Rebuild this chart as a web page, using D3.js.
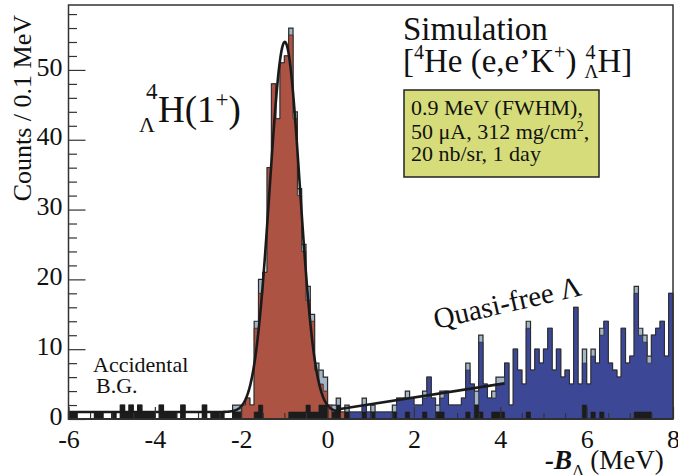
<!DOCTYPE html>
<html>
<head>
<meta charset="utf-8">
<script src="https://cdn.jsdelivr.net/npm/d3@7"></script>
<style>
  html, body { margin: 0; padding: 0; background: #fff; }
  svg { display: block; font-family: "Liberation Serif", "Times New Roman", serif; }
</style>
</head>
<body>
<svg id="chart" width="678" height="475"></svg>
<script>
// Simulated 4He(e,e'K+)4LH spectrum, 0.1 MeV bins from -6 to 8 MeV (140 bins)
const binLow = -6;
const binWidth = 0.1;

// accidental background (black)
const accCounts = [
  1, 1, 0, 0, 0, 0, 1, 1, 0, 0, 1, 0, 2, 1, 2, 1, 2, 1, 1, 1,
  0, 2, 1, 1, 1, 0, 2, 0, 0, 0, 0, 2, 0, 1, 1, 1, 0, 0, 1, 1,
  0, 0, 0, 1, 2, 0, 0, 0, 0, 0, 0, 1, 1, 1, 1, 2, 1, 1, 2, 2,
  0, 1, 2, 0, 1, 0, 0, 0, 1, 0, 1, 0, 0, 0, 0, 1, 0, 0, 1, 0,
  0, 0, 1, 0, 0, 1, 1, 0, 0, 0, 0, 0, 1, 0, 2, 1, 0, 0, 1, 1,
  1, 0, 0, 0, 0, 0, 1, 0, 0, 0, 0, 0, 0, 0, 0, 0, 0, 0, 0, 2,
  0, 1, 0, 1, 0, 0, 0, 0, 0, 0, 0, 1, 1, 1, 1, 0, 0, 0, 0, 0
];

// 4LH(1+) bound state (red)
const peakCounts = [
  0, 0, 0, 0, 0, 0, 0, 0, 0, 0, 0, 0, 0, 0, 0, 0, 0, 0, 0, 0,
  0, 0, 0, 0, 0, 0, 0, 0, 0, 0, 0, 0, 0, 0, 0, 0, 0, 0, 1, 1,
  2, 3, 2, 13, 18, 21, 36, 48, 43, 51, 52, 55, 43, 32, 24, 17, 14, 7, 5, 4,
  2, 1, 1, 1, 0, 0, 0, 0, 0, 0, 0, 0, 0, 0, 0, 0, 0, 0, 0, 0,
  0, 0, 0, 0, 0, 0, 0, 0, 0, 0, 0, 0, 0, 0, 0, 0, 0, 0, 0, 0,
  0, 0, 0, 0, 0, 0, 0, 0, 0, 0, 0, 0, 0, 0, 0, 0, 0, 0, 0, 0,
  0, 0, 0, 0, 0, 0, 0, 0, 0, 0, 0, 0, 0, 0, 0, 0, 0, 0, 0, 0
];

// quasi-free Lambda production (blue)
const qfCounts = [
  0, 0, 0, 0, 0, 0, 0, 0, 0, 0, 0, 0, 0, 0, 0, 0, 0, 0, 0, 0,
  0, 0, 0, 0, 0, 0, 0, 0, 0, 0, 0, 0, 0, 0, 0, 0, 0, 0, 0, 0,
  0, 0, 0, 0, 0, 0, 0, 0, 0, 0, 0, 0, 0, 0, 0, 0, 0, 0, 0, 0,
  0, 0, 0, 0, 1, 1, 1, 1, 2, 1, 1, 1, 1, 1, 1, 1, 3, 3, 3, 3,
  2, 2, 3, 6, 3, 1, 3, 4, 2, 2, 2, 3, 7, 5, 2, 11, 5, 3, 3, 5,
  5, 8, 2, 10, 7, 5, 13, 7, 10, 8, 10, 13, 7, 10, 6, 7, 5, 16, 5, 8,
  5, 9, 8, 12, 14, 8, 7, 6, 13, 8, 9, 18, 12, 11, 8, 12, 13, 14, 9, 18
];

// fits: gaussian + constant (amplitude, mean, sigma, constant) and quasi-free line
const peakFitParams = [53, -0.99, 0.35, 1.0];
const peakFitRange = [-6, 0.25];
const qfFitPoints = [[0.25, 1.4], [4.1, 5.1]];

const xTicks = [-6, -4, -2, 0, 2, 4, 6, 8];
const yTicks = [0, 10, 20, 30, 40, 50];

const infoLines = ["0.9 MeV (FWHM),", "50 \u03bcA, 312 mg/cm", "20 nb/sr, 1 day"];

// ---- layout ----
const serif = "'Liberation Serif', 'Times New Roman', serif";
const svg = d3.select("#chart");
const frame = { left: 68.5, right: 673, top: 5, bottom: 419 };

const x = d3.scaleLinear().domain([-6, 8]).range([frame.left, frame.right]);
const y = d3.scaleLinear().domain([0, 59.3]).range([frame.bottom, frame.top]);

const colors = {
  total: "#a3b6c7",
  peak: "#ad5344",
  qf: "#3c4795",
  acc: "#1c1c1c",
  edge: "#2a2a2a",
  box: "#d6dc7a"
};

const totalCounts = accCounts.map((a, i) => a + peakCounts[i] + qfCounts[i]);

// step histogram built from bin edges
const histArea = d3
  .area()
  .curve(d3.curveStepAfter)
  .x((d) => x(d.edge))
  .y0(y(0))
  .y1((d) => y(d.v));

function histPoints(counts) {
  const pts = counts.map((v, i) => ({ edge: binLow + i * binWidth, v }));
  pts.push({ edge: binLow + counts.length * binWidth, v: counts[counts.length - 1] });
  return pts;
}

const plot = svg.append("g");

plot.append("path")
  .attr("d", histArea(histPoints(totalCounts)))
  .attr("fill", colors.total)
  .attr("stroke", colors.edge)
  .attr("stroke-width", 1.2);

plot.append("path")
  .attr("d", histArea(histPoints(peakCounts)))
  .attr("fill", colors.peak)
  .attr("stroke", colors.edge)
  .attr("stroke-width", 0.8);

plot.append("path")
  .attr("d", histArea(histPoints(qfCounts)))
  .attr("fill", colors.qf)
  .attr("stroke", colors.edge)
  .attr("stroke-width", 0.8);

plot.append("path")
  .attr("d", histArea(histPoints(accCounts)))
  .attr("fill", colors.acc)
  .attr("stroke", colors.acc)
  .attr("stroke-width", 0.6);

// ---- fit curves ----
const [amp, mean, sigma, bg] = peakFitParams;
const fitXs = d3.range(peakFitRange[0], peakFitRange[1] + 1e-9, 0.01);
const fitLine = d3.line().x((d) => x(d[0])).y((d) => y(d[1]));

plot.append("path")
  .attr("d", fitLine(fitXs.map((t) => [t, amp * Math.exp(-((t - mean) ** 2) / (2 * sigma * sigma)) + bg])))
  .attr("fill", "none")
  .attr("stroke", "#1a1a1a")
  .attr("stroke-width", 2.6);

plot.append("path")
  .attr("d", fitLine(qfFitPoints))
  .attr("fill", "none")
  .attr("stroke", "#1a1a1a")
  .attr("stroke-width", 2.6);

// ---- axes ----
const plainFormat = (d) => String(d);

const yAxis = svg.append("g")
  .attr("transform", `translate(${frame.left},0)`)
  .call(d3.axisLeft(y).tickValues(yTicks).tickSize(-17).tickPadding(6).tickFormat(plainFormat));
svg.append("g")
  .attr("transform", `translate(${frame.left},0)`)
  .call(d3.axisLeft(y).tickValues(d3.range(0, 59, 2).filter((v) => v % 10 !== 0)).tickSize(-8.5).tickFormat(""));

const xAxis = svg.append("g")
  .attr("transform", `translate(0,${frame.bottom})`)
  .call(d3.axisBottom(x).tickValues(xTicks).tickSize(-12).tickPadding(11).tickFormat(plainFormat));
svg.append("g")
  .attr("transform", `translate(0,${frame.bottom})`)
  .call(d3.axisBottom(x).tickValues(d3.range(-5.5, 8, 0.5).filter((v) => v % 2 !== 0)).tickSize(-6).tickFormat(""));

svg.selectAll(".domain").remove();
svg.selectAll(".tick line").attr("stroke", "#333").attr("stroke-width", 1.2);
yAxis.attr("font-family", serif).attr("font-size", 26);
xAxis.attr("font-family", serif).attr("font-size", 26);
yAxis.selectAll("text").attr("fill", "#111").attr("dy", "0.2em");
xAxis.selectAll("text").attr("fill", "#111");

svg.append("rect")
  .attr("x", frame.left)
  .attr("y", frame.top)
  .attr("width", frame.right - frame.left)
  .attr("height", frame.bottom - frame.top)
  .attr("fill", "none")
  .attr("stroke", "#333")
  .attr("stroke-width", 1.5);

// axis titles
svg.append("text")
  .attr("transform", "translate(31,15) rotate(-90)")
  .attr("text-anchor", "end")
  .attr("font-size", 26)
  .attr("fill", "#111")
  .text("Counts / 0.1 MeV");

const xTitle = svg.append("text")
  .attr("x", 545)
  .attr("y", 469)
  .attr("font-size", 27)
  .attr("fill", "#111");
xTitle.append("tspan").attr("font-weight", "bold").attr("font-style", "italic").text("-B");
xTitle.append("tspan").attr("font-size", 17).attr("dy", 7).text("\u039b");
xTitle.append("tspan").attr("dy", -7).attr("dx", 6).text("(MeV)");

// ---- annotations ----
svg.append("text")
  .attr("x", 403)
  .attr("y", 40)
  .attr("font-size", 33)
  .attr("fill", "#111")
  .text("Simulation");

// [4He (e,e'K+) 4LH]
const reaction = svg.append("text")
  .attr("x", 403)
  .attr("y", 72)
  .attr("font-size", 33)
  .attr("fill", "#111");
reaction.append("tspan").text("[");
reaction.append("tspan").attr("font-size", 20).attr("dy", -13).text("4");
reaction.append("tspan").attr("dy", 13).text("He (e,e\u2019K");
reaction.append("tspan").attr("font-size", 20).attr("dy", -13).text("+");
reaction.append("tspan").attr("dy", 13).text(")");
const preX = 403 + reaction.node().getComputedTextLength() + 8;
svg.append("text").attr("x", preX + 1).attr("y", 59).attr("font-size", 20).attr("fill", "#111").text("4");
svg.append("text").attr("x", preX).attr("y", 78).attr("font-size", 19).attr("fill", "#111").text("\u039b");
svg.append("text").attr("x", preX + 13).attr("y", 72).attr("font-size", 33).attr("fill", "#111").text("H]");

// info box
svg.append("rect")
  .attr("x", 404)
  .attr("y", 90)
  .attr("width", 195)
  .attr("height", 87)
  .attr("fill", colors.box)
  .attr("stroke", "#222")
  .attr("stroke-width", 1.5);

const info = svg.append("g").attr("font-size", 22).attr("fill", "#111");
info.append("text").attr("x", 411).attr("y", 115).text(infoLines[0]);
const l2 = info.append("text").attr("x", 411).attr("y", 139).text(infoLines[1]);
l2.append("tspan").attr("font-size", 14).attr("dy", -8).text("2");
l2.append("tspan").attr("dy", 8).text(",");
info.append("text").attr("x", 411).attr("y", 161).text(infoLines[2]);

// 4LH(1+) label
svg.append("text").attr("x", 146).attr("y", 99).attr("font-size", 23).attr("fill", "#111").text("4");
svg.append("text").attr("x", 139).attr("y", 132).attr("font-size", 22).attr("fill", "#111").text("\u039b");
const hLabel = svg.append("text").attr("x", 158).attr("y", 122).attr("font-size", 37).attr("fill", "#111");
hLabel.append("tspan").text("H(1");
hLabel.append("tspan").attr("font-size", 23).attr("dy", -15).text("+");
hLabel.append("tspan").attr("dy", 15).text(")");

svg.append("text")
  .attr("transform", "translate(436,329) rotate(-13)")
  .attr("font-size", 29)
  .attr("fill", "#111")
  .text("Quasi-free \u039b");

svg.append("text").attr("x", 93).attr("y", 372).attr("font-size", 22).attr("fill", "#111").text("Accidental");
svg.append("text").attr("x", 96).attr("y", 393).attr("font-size", 22).attr("fill", "#111").text("B.G.");
</script>
</body>
</html>
